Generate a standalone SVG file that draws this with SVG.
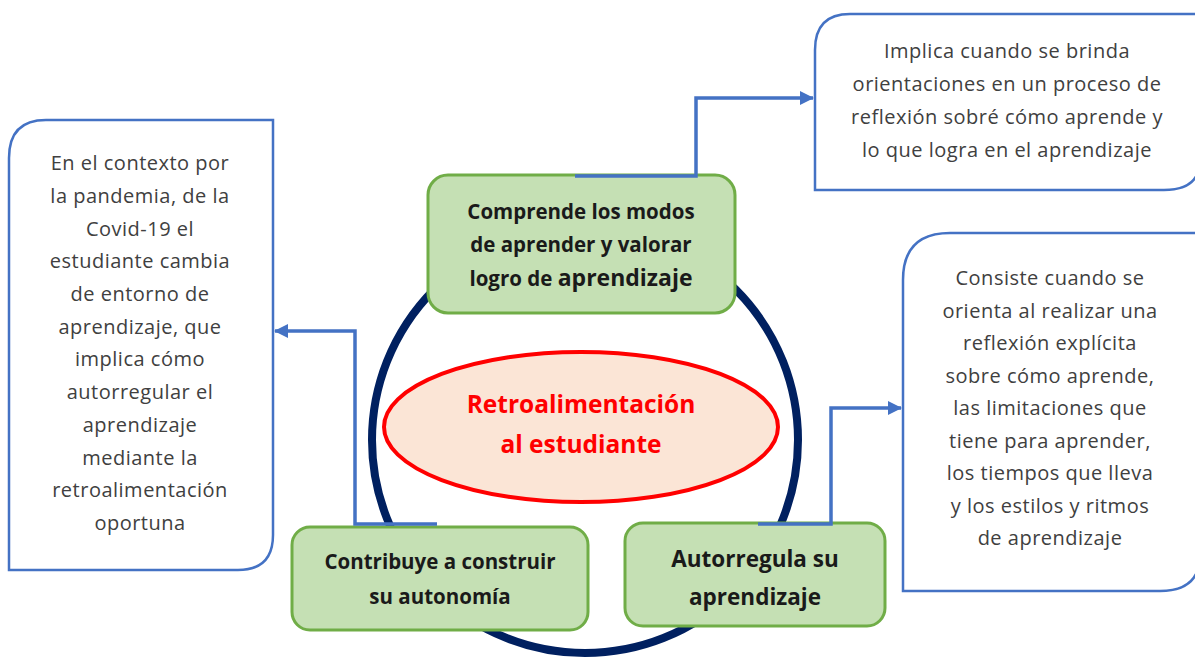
<svg xmlns="http://www.w3.org/2000/svg" width="1195" height="659" viewBox="0 0 1195 659">
<defs>
<marker id="arr" markerUnits="userSpaceOnUse" markerWidth="14" markerHeight="14" refX="13" refY="7" orient="auto">
<path d="M0,0 L14,7 L0,14 z" fill="#4472c4"/>
</marker>
<style>
.wbox{fill:#ffffff;stroke:#4472c4;stroke-width:2.5}
.gbox{fill:#c5e0b4;stroke:#70ad47;stroke-width:3}
.wt{font-family:"Open Sans","Liberation Sans",sans-serif;font-size:20px;letter-spacing:0.5px;fill:#404040;text-anchor:middle}
.gt{font-family:"Open Sans","Liberation Sans",sans-serif;font-weight:bold;font-size:20.5px;fill:#1a1a1a;text-anchor:middle}
.gl{font-family:"Open Sans","Liberation Sans",sans-serif;font-weight:bold;font-size:22.5px;fill:#1a1a1a;text-anchor:middle}
.big{font-size:23px}
.ct{font-family:"Open Sans","Liberation Sans",sans-serif;font-weight:bold;font-size:24.5px;fill:#ff0000;text-anchor:middle}
.con{fill:none;stroke:#4472c4;stroke-width:3.5}
</style>
</defs>
<rect width="1195" height="659" fill="#ffffff"/>
<g id="ring">
<circle cx="585" cy="440" r="213" fill="none" stroke="#002060" stroke-width="8"/>
</g>
<g id="center">
<ellipse cx="581" cy="427" rx="197" ry="75" fill="#fbe5d6" stroke="#ff0000" stroke-width="4"/>
<text class="ct" x="581" y="413">Retroalimentación</text>
<text class="ct" x="581" y="453">al estudiante</text>
</g>
<g id="n-comprende">
<rect class="gbox" x="428" y="175" width="307" height="138" rx="20"/>
<text class="gt" x="581" y="219">Comprende los modos</text>
<text class="gt" x="581" y="252">de aprender y valorar</text>
<text class="gt" x="581" y="286">logro de <tspan class="big">aprendizaje</tspan></text>
</g>
<g id="n-contribuye">
<rect class="gbox" x="292" y="527" width="296" height="103" rx="18"/>
<text class="gt" x="440" y="569">Contribuye a construir</text>
<text class="gt" x="440" y="604">su autonomía</text>
</g>
<g id="n-autorregula">
<rect class="gbox" x="625" y="523" width="260" height="103" rx="18"/>
<text class="gl" x="755" y="567">Autorregula su</text>
<text class="gl" x="755" y="605">aprendizaje</text>
</g>
<g id="n-implica">
<path class="wbox" d="M850,14 L1200,14 L1200,160 Q1200,190 1164,190 L815,190 L815,50 Q815,14 850,14 Z"/>
<text class="wt" x="1007" y="58">Implica cuando se brinda</text>
<text class="wt" x="1007" y="91">orientaciones en un proceso de</text>
<text class="wt" x="1007" y="124">reflexión sobré cómo aprende y</text>
<text class="wt" x="1007" y="157">lo que logra en el aprendizaje</text>
</g>
<g id="n-consiste">
<path class="wbox" d="M950,233 L1200,233 L1200,555 Q1200,591 1160,591 L903,591 L903,280 Q903,233 950,233 Z"/>
<text class="wt" x="1050" y="285">Consiste cuando se</text>
<text class="wt" x="1050" y="318">orienta al realizar una</text>
<text class="wt" x="1050" y="350">reflexión explícita</text>
<text class="wt" x="1050" y="383">sobre cómo aprende,</text>
<text class="wt" x="1050" y="415">las limitaciones que</text>
<text class="wt" x="1050" y="448">tiene para aprender,</text>
<text class="wt" x="1050" y="480">los tiempos que lleva</text>
<text class="wt" x="1050" y="513">y los estilos y ritmos</text>
<text class="wt" x="1050" y="545">de aprendizaje</text>
</g>
<g id="n-contexto">
<path class="wbox" d="M46,120 L273,120 L273,535 Q273,570 238,570 L9,570 L9,158 Q9,120 46,120 Z"/>
<text class="wt" x="140" y="170">En el contexto por</text>
<text class="wt" x="140" y="203">la pandemia, de la</text>
<text class="wt" x="140" y="236">Covid-19 el</text>
<text class="wt" x="140" y="268">estudiante cambia</text>
<text class="wt" x="140" y="301">de entorno de</text>
<text class="wt" x="140" y="334">aprendizaje, que</text>
<text class="wt" x="140" y="366">implica cómo</text>
<text class="wt" x="140" y="399">autorregular el</text>
<text class="wt" x="140" y="432">aprendizaje</text>
<text class="wt" x="140" y="465">mediante la</text>
<text class="wt" x="140" y="497">retroalimentación</text>
<text class="wt" x="140" y="530">oportuna</text>
</g>
<g id="connectors">
<path class="con" d="M575,176 L696,176 L696,98 L813,98" marker-end="url(#arr)"/>
<path class="con" d="M437,524 L355,524 L355,331 L275,331" marker-end="url(#arr)"/>
<path class="con" d="M758,524 L831,524 L831,408 L901,408" marker-end="url(#arr)"/>
</g>
</svg>
